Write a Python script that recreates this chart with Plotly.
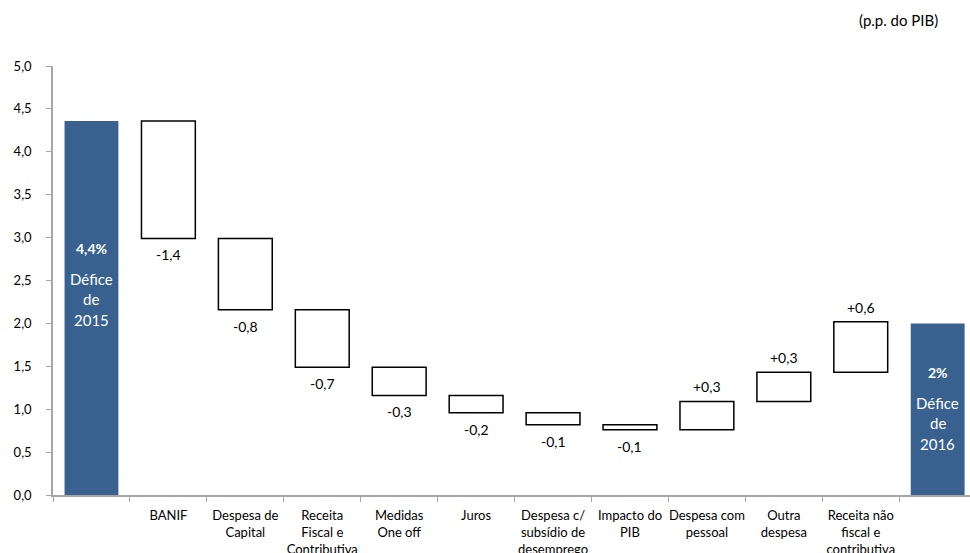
import plotly.graph_objects as go

# Deficit bridge 2015 -> 2016 (p.p. of GDP)
categories = [
    "cat0", "BANIF", "Despesa de<br>Capital", "Receita<br>Fiscal e<br>Contributiva",
    "Medidas<br>One off", "Juros", "Despesa c/<br>subsídio de<br>desemprego",
    "Impacto do<br>PIB", "Despesa com<br>pessoal", "Outra<br>despesa",
    "Receita não<br>fiscal e<br>contributiva", "cat11",
]
tick_labels = [
    "", "BANIF", "Despesa de<br>Capital", "Receita<br>Fiscal e<br>Contributiva",
    "Medidas<br>One off", "Juros", "Despesa c/<br>subsídio de<br>desemprego",
    "Impacto do<br>PIB", "Despesa com<br>pessoal", "Outra<br>despesa",
    "Receita não<br>fiscal e<br>contributiva", "",
]
start_value = 4.36
changes = [-1.37, -0.83, -0.67, -0.33, -0.20, -0.14, -0.06, 0.33, 0.34, 0.59]
end_value = 2.0
total_years = ["2015", "2016"]

BLUE = "#38618F"
FONT = "Lato"


def fmt(v, signed=False):
    s = f"{v:+.1f}" if signed else f"{v:.1f}"
    return s.replace(".", ",")


fig = go.Figure()

# totals
fig.add_trace(go.Bar(
    x=[categories[0], categories[-1]],
    y=[start_value, end_value],
    marker=dict(color=BLUE, line=dict(width=0)),
    width=0.7,
    hoverinfo="skip",
))

# floating change bars
bases, heights, levels = [], [], []
level = start_value
for c in changes:
    new = level + c
    bases.append(min(level, new))
    heights.append(abs(c))
    levels.append((level, new))
    level = new

fig.add_trace(go.Bar(
    x=categories[1:-1],
    y=heights,
    base=bases,
    marker=dict(color="white", line=dict(color="black", width=1.5)),
    width=0.7,
    hoverinfo="skip",
))

annotations = []
for cat, c, (a, b) in zip(categories[1:-1], changes, levels):
    if c < 0:
        annotations.append(dict(x=cat, y=min(a, b), yref="y", xref="x",
                                text=fmt(c, True), showarrow=False,
                                yanchor="top", yshift=-6,
                                font=dict(family=FONT, size=14, color="black")))
    else:
        annotations.append(dict(x=cat, y=max(a, b), yref="y", xref="x",
                                text=fmt(c, True), showarrow=False,
                                yanchor="bottom", yshift=4,
                                font=dict(family=FONT, size=14, color="black")))

# text inside the total bars: bold value, then "Défice / de / year"
end_label = fmt(end_value).replace(",0", "")
for cat, lab, yr, ylab in [
    (categories[0], fmt(start_value), total_years[0], start_value * 0.66),
    (categories[-1], end_label, total_years[1], end_value * 0.715),
]:
    annotations.append(dict(x=cat, y=ylab, xref="x", yref="y", showarrow=False,
                            yanchor="middle", text=f"<b>{lab}%</b>",
                            font=dict(family=FONT, size=14, color="white")))
    for txt, shift in [("Défice", -31), ("de", -51), (yr, -72)]:
        annotations.append(dict(x=cat, y=ylab, xref="x", yref="y", showarrow=False,
                                yanchor="middle", yshift=shift, text=txt,
                                font=dict(family=FONT, size=15, color="white")))

# unit note, top right (pixel position converted to paper space)
annotations.append(dict(
    x=(940 - 53) / (970 - 53), y=1 + (66 - 20) / (553 - 66 - 58),
    xref="paper", yref="paper", showarrow=False,
    text="(p.p. do PIB)", xanchor="right", yanchor="middle",
    font=dict(family=FONT, size=15, color="black"),
))

fig.update_layout(
    width=970, height=553,
    margin=dict(l=53, r=0, t=66, b=58),
    paper_bgcolor="white", plot_bgcolor="white",
    showlegend=False,
    barmode="overlay",
    separators=", ",
    font=dict(family=FONT, size=13, color="black"),
    annotations=annotations,
    xaxis=dict(
        type="category", automargin=False,
        categoryorder="array", categoryarray=categories,
        tickmode="array", tickvals=categories, ticktext=tick_labels,
        tickson="boundaries", ticks="outside", ticklen=5, tickcolor="#A6A6A6",
        showline=True, linecolor="#A6A6A6", linewidth=1.5,
        showgrid=False, tickangle=0,
        ticklabelstandoff=8,
        tickfont=dict(family=FONT, size=13, color="black"),
        range=[-0.5, 11.42],
    ),
    yaxis=dict(
        range=[0, 5], dtick=0.5, tickformat=".1f", automargin=False,
        ticks="outside", ticklen=5, tickcolor="#A6A6A6",
        showline=True, linecolor="#A6A6A6", linewidth=1.5,
        showgrid=False, zeroline=False,
        ticklabelstandoff=12,
        tickfont=dict(family=FONT, size=13, color="black"),
    ),
)

fig.write_html("out.html")
